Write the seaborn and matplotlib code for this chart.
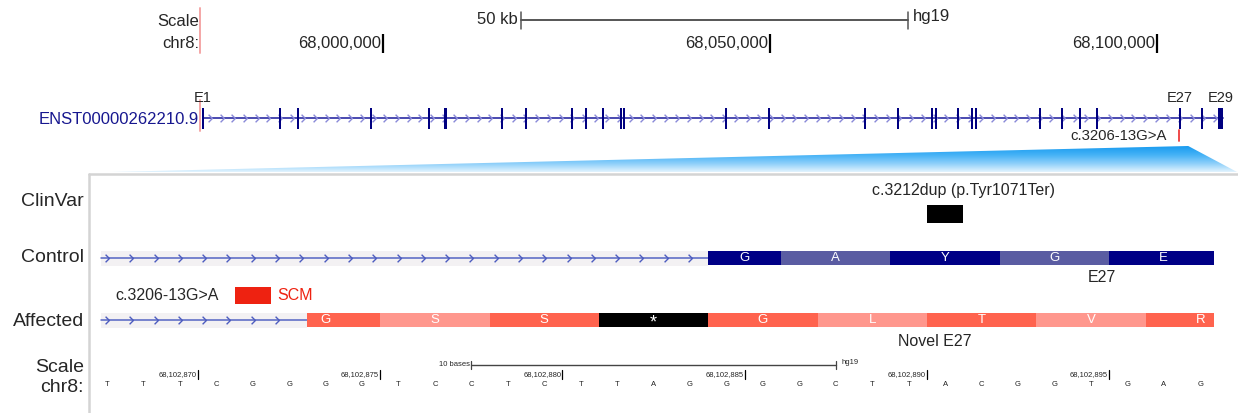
import numpy as np
import matplotlib
matplotlib.use("Agg")
import matplotlib.pyplot as plt
from matplotlib.path import Path
from matplotlib.patches import Polygon, Rectangle
from matplotlib.colors import LinearSegmentedColormap
import seaborn as sns

# ---------------- data ----------------
TRANSCRIPT = "ENST00000262210.9"
GENE_START = 67_976_740
GENE_END = 68_108_560
HIGHLIGHT_POS = 67_976_350
EXON_MID = [67_976_750, 67_986_700, 67_989_000, 67_998_450, 68_005_950,
            68_008_050, 68_015_400, 68_018_500, 68_024_400, 68_026_250,
            68_028_400, 68_030_750, 68_031_150, 68_044_300, 68_049_850,
            68_062_300, 68_066_550, 68_070_950, 68_071_450, 68_074_300,
            68_076_100, 68_076_600, 68_084_900, 68_087_700, 68_090_050,
            68_092_250, 68_102_950, 68_105_800, 68_108_200]
EXON_LEN = [150, 150, 150, 150, 150, 450, 150, 150, 150, 150,
            150, 150, 150, 150, 150, 150, 150, 150, 150, 150,
            150, 150, 150, 150, 150, 150, 150, 150, 700]
EXON_NAMES = {0: "E1", 26: "E27", 28: "E29"}
OVERVIEW_TICKS = [68_000_000, 68_050_000, 68_100_000]
OVERVIEW_BAR_START = 68_017_830
OVERVIEW_BAR_LEN = 50_000
VARIANT_POS = 68_102_872
VARIANT_NAME = "c.3206-13G>A"

ZOOM_START = 68_102_867
BASES = list("TTTCGGGGTCCTCTTAGGGGCTTACGGTGAG")
ZOOM_TICKS = [68_102_870, 68_102_875, 68_102_880, 68_102_885, 68_102_890, 68_102_895]
ZOOM_BAR_START = 68_102_877.5
ZOOM_BAR_LEN = 10
TRACK_START = 68_102_867.33
TRACK_END = 68_102_897.87

CONTROL_EXON_START = 68_102_884
CONTROL_CODON_START = [68_102_884, 68_102_886, 68_102_889, 68_102_892, 68_102_895]
CONTROL_CODON_END = [68_102_886, 68_102_889, 68_102_892, 68_102_895, 68_102_898]
CONTROL_AA = ["G", "A", "Y", "G", "E"]

AFFECTED_EXON_START = 68_102_873
AFFECTED_CODON_START = [68_102_872, 68_102_875, 68_102_878, 68_102_881, 68_102_884,
                        68_102_887, 68_102_890, 68_102_893, 68_102_896]
AFFECTED_CODON_END = [68_102_875, 68_102_878, 68_102_881, 68_102_884, 68_102_887,
                      68_102_890, 68_102_893, 68_102_896, 68_102_899]
AFFECTED_AA = ["G", "S", "S", "*", "G", "L", "T", "V", "R"]

CLINVAR_START = 68_102_890
CLINVAR_END = 68_102_891
CLINVAR_NAME = "c.3212dup (p.Tyr1071Ter)"

# ---------------- style ----------------
sns.set_theme(style="white")
plt.rcParams["font.family"] = ["Liberation Sans", "DejaVu Sans"]

NAVY = "#000086"
NAVY_LIGHT = "#5a5ca2"
RED = "#ff634e"
RED_LIGHT = "#ff978d"
INTRON_BG = "#f3f1f3"
CHEVRON = Path([(-0.5, 1.0), (0.5, 0.0), (-0.5, -1.0)],
               [Path.MOVETO, Path.LINETO, Path.LINETO])

W, H = 1238, 413
TOP_H = 172
BP_PX = 100_000 / 774          # overview bp per pixel
PX_BASE = 36.44                # zoom pixels per base
ZOOM_REF = ZOOM_START + 0.5    # centre of first base sits at pixel 107


def top_x(px):
    return OVERVIEW_TICKS[0] + (px - 383) * BP_PX


def low_x(px):
    return ZOOM_REF + (px - 107) / PX_BASE


fig = plt.figure(figsize=(W / 100, H / 100), dpi=100)
fig.patch.set_facecolor("white")
ax_top = fig.add_axes([0, 1 - TOP_H / H, 1, TOP_H / H])
ax_low = fig.add_axes([0, 0, 1, 1 - TOP_H / H])
for ax in (ax_top, ax_low):
    ax.set_axis_off()
    ax.patch.set_alpha(0)


# ---------------- overview panel ----------------
def draw_overview(ax):
    ax.text(top_x(199), 22, "Scale", ha="right", va="center", fontsize=12)
    ax.text(top_x(199), 44, "chr8:", ha="right", va="center", fontsize=12)
    for t in OVERVIEW_TICKS:
        ax.plot([t, t], [34, 53], color="black", lw=1.6, solid_capstyle="butt")
        ax.text(t - 1.5 * BP_PX, 44, f"{t:,}", ha="right", va="center", fontsize=12)
    b0, b1 = OVERVIEW_BAR_START, OVERVIEW_BAR_START + OVERVIEW_BAR_LEN
    ax.plot([b0, b1], [20, 20], color="#555555", lw=1.4)
    ax.plot([b0, b0], [12, 29], color="#555555", lw=1.1)
    ax.plot([b1, b1], [12, 29], color="#555555", lw=1.1)
    ax.text(b0 - 3 * BP_PX, 20, f"{OVERVIEW_BAR_LEN // 1000} kb", ha="right", va="center", fontsize=12)
    ax.text(b1 + 5 * BP_PX, 17, "hg19", ha="left", va="center", fontsize=12)

    # highlight marker
    for y0, y1 in [(8, 53), (100, 131)]:
        ax.plot([HIGHLIGHT_POS, HIGHLIGHT_POS], [y0, y1], color="#f4a6a6", lw=1.4)

    ax.text(top_x(199), 119, TRANSCRIPT, ha="right", va="center", fontsize=12, color="#17178f")

    # gene model
    ax.plot([GENE_START, GENE_END], [118, 118], color="#4a4ab0", lw=1.4, zorder=2)
    chev = np.arange(GENE_START + 900, GENE_END - 300, 1510)
    ax.plot(chev, np.full(len(chev), 118), ls="none", marker=CHEVRON, ms=5.5,
            mfc="none", mec="#8a8ad8", mew=1.0, zorder=3)
    widths = [max(l, 230) for l in EXON_LEN]
    ax.bar(EXON_MID, 21, width=widths, bottom=107.5, color="#000080", lw=0, zorder=4)
    for i, name in EXON_NAMES.items():
        ax.text(EXON_MID[i], 98, name, ha="center", va="center", fontsize=10.5)

    # variant
    ax.plot([VARIANT_POS, VARIANT_POS], [130, 141], color="#ee3a3a", lw=1.3)
    ax.text(VARIANT_POS - 12 * BP_PX, 136, VARIANT_NAME, ha="right", va="center", fontsize=10.7)

    # zoom wedge with gradient
    apex = VARIANT_POS + 9 * BP_PX
    verts = [(top_x(90), 172.5), (apex, 146), (top_x(1238), 172.5)]
    poly = Polygon(verts, closed=True, facecolor="none", edgecolor="none")
    ax.add_patch(poly)
    cmap = LinearSegmentedColormap.from_list(
        "wedge", ["#1a9cf0", "#45b2f6", "#8fd0fa", "#e6f5fe"])
    grad = np.linspace(0, 1, 64).reshape(-1, 1)
    im = ax.imshow(grad, cmap=cmap, aspect="auto", origin="upper",
                   extent=(top_x(90), top_x(1238), 172.5, 146), zorder=1)
    im.set_clip_path(poly)

    ax.set_xlim(top_x(0), top_x(W))
    ax.set_ylim(TOP_H, 0)


# ---------------- zoomed panel ----------------
def draw_intron(ax, y, start, end):
    ax.add_patch(Rectangle((start, y - 7.5), end - start, 15, color=INTRON_BG, lw=0, zorder=1))
    ax.plot([start, end], [y, y], color="#5565c4", lw=1.1, zorder=2)
    chev = np.arange(ZOOM_REF, end - 0.3, 2 / 3)
    ax.plot(chev, np.full(len(chev), y), ls="none", marker=CHEVRON, ms=5.5,
            mfc="none", mec="#4d5cbf", mew=1.0, zorder=3)


def draw_codons(ax, y, starts, ends, aas, exon_start, colors, star_color):
    for k, (s, e, aa) in enumerate(zip(starts, ends, aas)):
        left = max(s, exon_start)
        right = min(e, TRACK_END)
        col = star_color if aa == "*" else colors[k % 2]
        ax.barh(y, right - left, left=left, height=14, color=col, lw=0, zorder=4)
        ty = y + 2.5 if aa == "*" else y
        ax.text((s + e) / 2, ty, aa, ha="center", va="center", color="white",
                fontsize=13 if aa == "*" else 9.5, zorder=5)


def draw_zoom(ax):
    # panel frame
    ax.plot([low_x(89), low_x(89)], [174, H], color="#d4d4d4", lw=1.8)
    ax.plot([low_x(89), low_x(W)], [173.5, 173.5], color="#d4d4d4", lw=1.8)

    for label, y in [("ClinVar", 201), ("Control", 258), ("Affected", 321),
                     ("Scale", 367), ("chr8:", 388)]:
        ax.text(low_x(84), y, label, ha="right", va="center", fontsize=14)

    # ClinVar
    ax.barh(214, CLINVAR_END - CLINVAR_START, left=CLINVAR_START, height=18,
            color="black", lw=0)
    ax.text((CLINVAR_START + CLINVAR_END) / 2 + 0.5, 191, CLINVAR_NAME,
            ha="center", va="center", fontsize=11.5)

    # Control
    draw_intron(ax, 258, TRACK_START, CONTROL_EXON_START)
    draw_codons(ax, 258, CONTROL_CODON_START, CONTROL_CODON_END, CONTROL_AA,
                CONTROL_EXON_START, [NAVY, NAVY_LIGHT], "black")
    ax.text(low_x(1102), 278, "E27", ha="center", va="center", fontsize=11.5)

    # Affected
    ax.text(low_x(115), 295, VARIANT_NAME, ha="left", va="center", fontsize=11.5)
    ax.add_patch(Rectangle((low_x(235), 287), 36 / PX_BASE, 17, color="#ee2211", lw=0))
    ax.text(low_x(277), 295, "SCM", ha="left", va="center", fontsize=11.5, color="#ee2211")
    draw_intron(ax, 320, TRACK_START, AFFECTED_EXON_START)
    draw_codons(ax, 320, AFFECTED_CODON_START, AFFECTED_CODON_END, AFFECTED_AA,
                AFFECTED_EXON_START, [RED, RED_LIGHT], "black")
    ax.text(low_x(935), 342, "Novel E27", ha="center", va="center", fontsize=11.5)

    # base-level scale
    b0, b1 = ZOOM_BAR_START, ZOOM_BAR_START + ZOOM_BAR_LEN
    ax.plot([b0, b1], [365, 365], color="#444444", lw=1.0)
    ax.plot([b0, b0], [361, 369], color="#444444", lw=0.9)
    ax.plot([b1, b1], [361, 369], color="#444444", lw=0.9)
    ax.text(b0 - 0.03, 365, f"{ZOOM_BAR_LEN} bases", ha="right", va="center", fontsize=5.5)
    ax.text(b1 + 0.15, 363, "hg19", ha="left", va="center", fontsize=5.5)
    for t in ZOOM_TICKS:
        ax.plot([t, t], [370, 379], color="black", lw=0.9)
        ax.text(t - 0.03, 375, f"{t:,}", ha="right", va="center", fontsize=5.5)
    for i, b in enumerate(BASES):
        ax.text(ZOOM_START + i + 0.5, 384, b, ha="center", va="center", fontsize=5.5,
                color="#222222")

    ax.set_xlim(low_x(0), low_x(W))
    ax.set_ylim(H, TOP_H)


draw_overview(ax_top)
draw_zoom(ax_low)

fig.savefig("out.png", dpi=100, facecolor="white")
